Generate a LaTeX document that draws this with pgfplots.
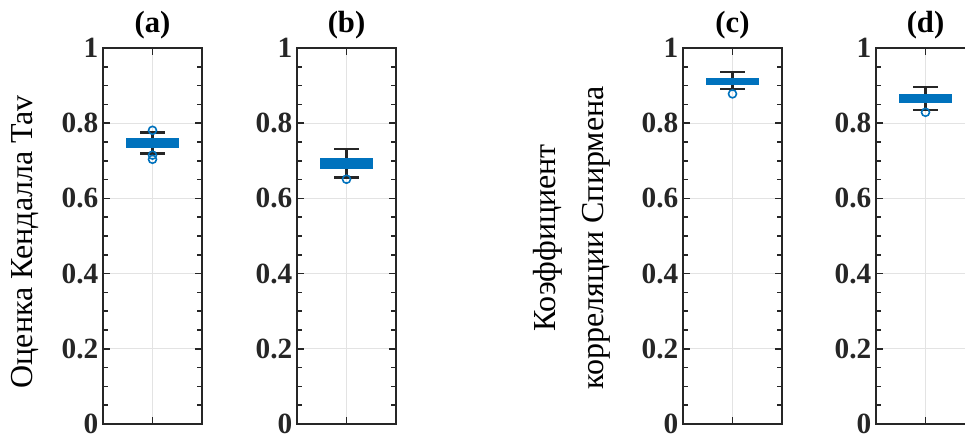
\documentclass[border=0pt]{standalone}
\usepackage{fontspec}
\setmainfont{Liberation Serif}
\usepackage{pgfplots}
\pgfplotsset{compat=1.18}
\usepgfplotslibrary{statistics}
\definecolor{mblue}{HTML}{0072BD}
\definecolor{maxis}{HTML}{262626}
\definecolor{mgrid}{HTML}{E3E3E3}

\pgfplotsset{
  panel/.style={
    anchor=south west, scale only axis,
    width=74.25pt, height=282pt,
    xmin=0, xmax=2, ymin=0, ymax=1,
    xtick={1}, xticklabels={},
    ytick={0,0.2,0.4,0.6,0.8,1},
    yticklabels={0,0.2,0.4,0.6,0.8,1},
    minor y tick num=3,
    axis line style={maxis, line width=1.3pt},
    every tick/.style={maxis, line width=1.1pt},
    major tick length=5pt, minor tick length=4pt,
    grid=major, major grid style={mgrid, line width=0.9pt},
    /pgf/number format/assume math mode=true,
    tick label style={font=\bfseries\fontsize{22}{26}\selectfont, text=maxis},
    title style={font=\bfseries\fontsize{23}{26}\selectfont, yshift=-3pt},
    boxplot/draw direction=y,
    boxplot/every box/.style={fill=mblue, draw=mblue, line width=0.8pt},
    boxplot/every median/.style={draw=mblue, line width=0.8pt},
    boxplot/every whisker/.style={draw=maxis, line width=2pt},
  },
  bx/.style={mblue, mark=o, mark size=3pt, mark options={draw=mblue, line width=1.2pt, fill=mblue!30}},
}

\begin{document}
\begin{tikzpicture}
\path[use as bounding box] (0,0) rectangle (723.75pt,325.5pt);

% (a)
\begin{axis}[panel, at={(77.25pt,7.5pt)}, title={(a)}]
\addplot+[bx, boxplot prepared={draw position=1,
  lower whisker=0.720, lower quartile=0.736, median=0.748,
  upper quartile=0.760, upper whisker=0.776,
  box extend=1.05, whisker extend=0.5}]
  table[row sep=\\, y index=0, header=false] {0.715\\0.704\\0.781\\};
\end{axis}

% (b)
\begin{axis}[panel, at={(222.75pt,7.5pt)}, title={(b)}]
\addplot+[bx, boxplot prepared={draw position=1,
  lower whisker=0.656, lower quartile=0.680, median=0.694,
  upper quartile=0.707, upper whisker=0.731,
  box extend=1.05, whisker extend=0.5}]
  table[row sep=\\, y index=0, header=false] {0.651\\};
\end{axis}

% (c)
\begin{axis}[panel, at={(512.25pt,7.5pt)}, title={(c)}]
\addplot+[bx, boxplot prepared={draw position=1,
  lower whisker=0.891, lower quartile=0.904, median=0.912,
  upper quartile=0.920, upper whisker=0.936,
  box extend=1.05, whisker extend=0.5}]
  table[row sep=\\, y index=0, header=false] {0.878\\};
\end{axis}

% (d)
\begin{axis}[panel, at={(657pt,7.5pt)}, title={(d)}]
\addplot+[bx, boxplot prepared={draw position=1,
  lower whisker=0.835, lower quartile=0.856, median=0.866,
  upper quartile=0.877, upper whisker=0.896,
  box extend=1.05, whisker extend=0.5}]
  table[row sep=\\, y index=0, header=false] {0.829\\};
\end{axis}

\node[rotate=90, font=\fontsize{24}{28}\selectfont] at (18.75pt,144pt) {Оценка Кендалла Tav};
\node[rotate=90, font=\fontsize{24}{36}\selectfont, align=center] at (429pt,147pt)
  {Коэффициент\\корреляции Спирмена};
\end{tikzpicture}
\end{document}
